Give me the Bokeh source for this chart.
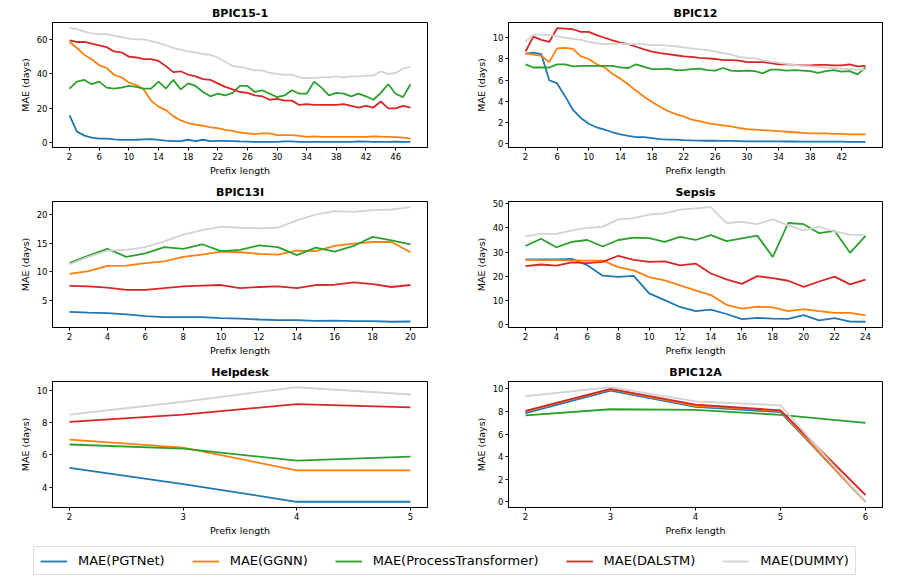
import numpy as np
from bokeh.plotting import figure
from bokeh.layouts import column, row
from bokeh.models import FixedTicker, Range1d, Legend, LegendItem
from bokeh.embed import file_html
from bokeh.resources import INLINE

MODELS = ["MAE(PGTNet)", "MAE(GGNN)", "MAE(ProcessTransformer)", "MAE(DALSTM)", "MAE(DUMMY)"]
COLORS = ["#1f77b4", "#ff7f0e", "#2ca02c", "#d62728", "#d3d3d3"]

# ---------------- BPIC15-1 ----------------
bpic151_x = list(range(2, 49))
bpic151_pgtnet = [16, 6.5, 4.2, 3, 2.5, 2.5, 2, 1.7, 1.7, 1.8, 2, 2.2, 1.7, 1.3, 1.0, 1.0, 1.8, 1.0, 1.8, 1.0,
                  1.2, 1.2, 1.0, 0.8, 0.7, 0.6, 0.6, 0.6, 0.6, 0.8, 0.8, 0.6, 0.6, 0.6, 0.6, 0.6, 0.6, 0.6, 0.6, 0.8,
                  0.7, 0.6, 0.6, 0.6, 0.7, 0.6, 0.6]
bpic151_ggnn = [58.5, 55, 51, 48.5, 45, 43.5, 39.5, 38, 35, 33.5, 31, 24.5, 21, 19, 15.5, 13, 11.5, 10.5, 10, 9,
                8.5, 7.5, 7, 6, 5.5, 5, 5.5, 5.5, 4.5, 4.5, 4.5, 4, 3.5, 3.8, 3.5, 3.5, 3.5, 3.5, 3.5, 3.5,
                3.5, 3.8, 3.6, 3.5, 3.3, 3.0, 2.5]
bpic151_pt = [31.5, 35.5, 36.5, 34, 35.5, 32, 31.5, 32, 33, 32.5, 31.5, 31.5, 35.5, 31.5, 36.5, 31, 34.5, 33, 29.5, 27,
              28.5, 27.5, 29, 33, 33, 29.5, 30.5, 28.5, 26.5, 27.5, 30.5, 28.5, 28.5, 35.5, 32, 27.5, 29, 28.5, 27, 28.5,
              27, 25, 29, 34, 28.5, 26.5, 34]
bpic151_dalstm = [59.5, 58.5, 58.5, 57.5, 56.5, 55.5, 53, 52.5, 50, 49.5, 48.5, 48.5, 47.5, 44.5, 41, 41.5, 39.5, 38.5, 37, 36.5,
                  34.5, 32.5, 31, 29.5, 29, 27.5, 27, 25, 25.5, 24.5, 24.5, 22, 22.5, 22, 22, 22, 22, 22.5, 21.5, 20.5,
                  21.5, 20.5, 24, 20, 20, 21.5, 20.5]
bpic151_dummy = [66.5, 66, 64.5, 63.5, 63, 63, 62, 61.5, 60.5, 60, 60, 59, 58, 56.5, 55, 54, 53, 52.5, 51.5, 51,
                 49.5, 47, 44.5, 44, 43, 42, 42, 40.5, 40, 39.5, 39.5, 38, 37.5, 37.5, 38, 38, 38.5, 38, 38.5, 38.5,
                 39, 39, 41.5, 40, 40.5, 43, 44]
bpic151_xticks = [2, 6, 10, 14, 18, 22, 26, 30, 34, 38, 42, 46]
bpic151_yticks = [0, 20, 40, 60]

# ---------------- BPIC12 ----------------
bpic12_x = list(range(2, 46))
bpic12_pgtnet = [8.5, 8.6, 8.45, 6.0, 5.7, 4.5, 3.2, 2.45, 1.9, 1.55, 1.35, 1.1, 0.9, 0.75, 0.65, 0.65, 0.55, 0.45, 0.4, 0.4,
                 0.35, 0.33, 0.32, 0.3, 0.3, 0.28, 0.28, 0.27, 0.25, 0.25, 0.25, 0.24, 0.24, 0.23, 0.23, 0.22, 0.22, 0.22, 0.22, 0.21,
                 0.21, 0.2, 0.2, 0.2]
bpic12_ggnn = [8.5, 8.4, 8.3, 7.7, 9.0, 9.05, 8.95, 8.25, 8.0, 7.5, 7.2, 6.6, 6.15, 5.6, 5.0, 4.45, 3.95, 3.5, 3.1, 2.8,
               2.6, 2.3, 2.15, 1.95, 1.85, 1.75, 1.65, 1.5, 1.4, 1.35, 1.3, 1.25, 1.2, 1.15, 1.1, 1.05, 1.0, 1.0, 1.0, 0.95,
               0.95, 0.9, 0.9, 0.9]
bpic12_pt = [7.5, 7.2, 7.2, 7.2, 7.5, 7.5, 7.3, 7.35, 7.35, 7.35, 7.35, 7.35, 7.2, 7.15, 7.5, 7.25, 7.05, 7.05, 7.1, 6.95,
             6.95, 7.05, 7.1, 6.95, 6.9, 7.15, 6.9, 6.85, 6.9, 6.85, 6.65, 7.0, 7.0, 6.9, 6.95, 6.9, 6.85, 6.7, 6.85, 6.95,
             6.8, 6.85, 6.55, 7.2]
bpic12_dalstm = [8.7, 10.1, 9.8, 9.6, 10.9, 10.85, 10.8, 10.55, 10.55, 10.25, 10.0, 9.75, 9.55, 9.4, 9.15, 8.9, 8.7, 8.55, 8.45, 8.35,
                 8.25, 8.2, 8.1, 8.05, 8.0, 7.9, 7.9, 7.85, 7.7, 7.7, 7.7, 7.6, 7.5, 7.5, 7.45, 7.4, 7.4, 7.45, 7.45, 7.4,
                 7.4, 7.5, 7.3, 7.35]
bpic12_dummy = [9.6, 10.3, 10.3, 10.25, 10.15, 10.0, 9.9, 9.8, 9.6, 9.5, 9.4, 9.45, 9.45, 9.4, 9.4, 9.4, 9.3, 9.3, 9.25, 9.2,
                9.1, 9.0, 8.9, 8.85, 8.7, 8.55, 8.4, 8.2, 8.1, 8.05, 7.9, 7.75, 7.65, 7.55, 7.45, 7.35, 7.3, 7.25, 7.2, 7.15,
                7.1, 7.05, 7.0, 7.0]
bpic12_xticks = [2, 6, 10, 14, 18, 22, 26, 30, 34, 38, 42]
bpic12_yticks = [0, 2, 4, 6, 8, 10]

# ---------------- BPIC13I ----------------
bpic13i_x = list(range(2, 21))
bpic13i_pgtnet = [2.95, 2.8, 2.7, 2.5, 2.2, 2.0, 2.0, 2.0, 1.85, 1.75, 1.6, 1.5, 1.5, 1.35, 1.4, 1.3, 1.3, 1.2, 1.25]
bpic13i_ggnn = [9.6, 10.1, 11.0, 11.05, 11.5, 11.8, 12.6, 13.0, 13.5, 13.4, 13.1, 13.0, 13.7, 13.6, 14.5, 14.9, 15.2, 15.2, 13.4]
bpic13i_pt = [11.5, 12.8, 14.0, 12.6, 13.2, 14.3, 14.0, 14.8, 13.6, 13.8, 14.6, 14.3, 12.9, 14.2, 13.5, 14.5, 16.1, 15.5, 14.8]
bpic13i_dalstm = [7.5, 7.4, 7.2, 6.8, 6.8, 7.1, 7.4, 7.55, 7.65, 7.1, 7.3, 7.4, 7.1, 7.65, 7.7, 8.1, 7.8, 7.3, 7.65]
bpic13i_dummy = [11.3, 12.6, 13.7, 13.8, 14.3, 15.3, 16.5, 17.3, 17.9, 17.7, 17.6, 17.7, 19.0, 20.0, 20.6, 20.5, 20.8, 20.9, 21.3]
bpic13i_xticks = [2, 4, 6, 8, 10, 12, 14, 16, 18, 20]
bpic13i_yticks = [5, 10, 15, 20]

# ---------------- Sepsis ----------------
sepsis_x = list(range(2, 25))
sepsis_pgtnet = [27, 27, 27, 27.2, 24.6, 20.3, 19.8, 20.2, 13, 10.2, 7.4, 5.7, 6.3, 4.5, 2.4, 2.9, 2.6, 2.5, 4.0, 1.9, 2.8, 1.4, 1.3]
sepsis_ggnn = [26.8, 26.7, 26.7, 26.6, 26.5, 26.5, 23.8, 22.5, 19.7, 18.4, 16.3, 14.2, 12.3, 8.3, 6.7, 7.5, 7.2, 5.7, 6.5, 5.7, 5.0, 5.0, 3.9]
sepsis_pt = [32.5, 35.5, 32, 34.2, 35, 32.3, 35, 36, 35.8, 34.2, 36.3, 35, 37, 34.5, 35.7, 36.8, 28, 42, 41.5, 37.8, 38.8, 29.7, 36.7]
sepsis_dalstm = [24.2, 24.9, 24.4, 25.8, 25.5, 26, 28.5, 26.8, 26, 26.2, 24.5, 25.3, 21.2, 18.8, 16.9, 20.1, 19.3, 18.2, 15.7, 17.9, 19.9, 16.7, 18.7]
sepsis_dummy = [36.5, 37.5, 37.5, 39, 40, 40.5, 43.5, 44, 45.5, 46, 47.5, 48, 48.5, 42, 42.5, 41.5, 43.5, 41, 39, 40.5, 38.5, 37.2, 37]
sepsis_xticks = [2, 4, 6, 8, 10, 12, 14, 16, 18, 20, 22, 24]
sepsis_yticks = [0, 10, 20, 30, 40, 50]

# ---------------- Helpdesk ----------------
helpdesk_x = [2, 3, 4, 5]
helpdesk_pgtnet = [5.2, 4.2, 3.1, 3.1]
helpdesk_ggnn = [6.95, 6.45, 5.05, 5.05]
helpdesk_pt = [6.65, 6.4, 5.65, 5.9]
helpdesk_dalstm = [8.05, 8.5, 9.15, 8.95]
helpdesk_dummy = [8.5, 9.3, 10.2, 9.75]
helpdesk_xticks = [2, 3, 4, 5]
helpdesk_yticks = [4, 6, 8, 10]

# ---------------- BPIC12A ----------------
bpic12a_x = [2, 3, 4, 5, 6]
bpic12a_pgtnet = [7.85, 9.85, 8.4, 7.95, 0.02]
bpic12a_ggnn = [8.0, 9.95, 8.5, 8.05, 0.0]
bpic12a_pt = [7.65, 8.2, 8.15, 7.7, 7.0]
bpic12a_dalstm = [8.05, 10.0, 8.6, 8.1, 0.6]
bpic12a_dummy = [9.35, 10.15, 8.9, 8.55, 0.0]
bpic12a_xticks = [2, 3, 4, 5, 6]
bpic12a_yticks = [0, 2, 4, 6, 8, 10]

FONT = "DejaVu Sans"


def padded(lo, hi):
    span = hi - lo
    return lo - 0.05 * span, hi + 0.05 * span


def make_panel(title, xs, series, xticks, yticks, left_col, top_row):
    all_y = np.concatenate([np.asarray(s, dtype=float) for s in series])
    x0, x1 = padded(min(xs), max(xs))
    y0, y1 = padded(all_y.min(), all_y.max())
    if left_col:
        fw, ml, br = 381, 16, 27
    else:
        fw, ml, br = 380, 18, 9
    bl = 30
    bt = 22 if top_row else 21
    fh = 128 if top_row else 129
    bb = 28
    w = bl + fw + br
    h = bt + fh + bb
    p = figure(width=w, height=h, output_backend="svg", toolbar_location=None,
               x_range=Range1d(x0, x1), y_range=Range1d(y0, y1),
               min_border_left=bl, min_border_right=br, min_border_top=bt, min_border_bottom=bb,
               margin=(0, 0, 180 - h, ml))
    p.title.text = title
    p.title.align = "center"
    p.title.text_font = FONT
    p.title.text_font_size = "11px"
    p.title.text_font_style = "bold"
    p.title.text_color = "black"
    p.title.standoff = 5
    p.grid.visible = False
    p.outline_line_color = "black"
    p.outline_line_alpha = 1.0
    p.outline_line_width = 1
    p.background_fill_color = "white"
    p.border_fill_color = "white"
    for ax in (p.xaxis, p.yaxis):
        ax.axis_line_color = "black"
        ax.major_tick_line_color = "black"
        ax.major_tick_out = 3
        ax.major_tick_in = 0
        ax.minor_tick_line_color = None
        ax.major_label_text_font = FONT
        ax.major_label_text_font_size = "8.5px"
        ax.major_label_text_color = "black"
        ax.axis_label_text_font = FONT
        ax.axis_label_text_font_size = "9.5px"
        ax.axis_label_text_font_style = "normal"
        ax.axis_label_text_color = "black"
    p.xaxis.major_label_standoff = 2
    p.xaxis.axis_label_standoff = 2
    p.yaxis.major_label_standoff = 2
    p.yaxis.axis_label_standoff = 3
    p.xaxis.ticker = FixedTicker(ticks=xticks)
    p.yaxis.ticker = FixedTicker(ticks=yticks)
    p.xaxis.axis_label = "Prefix length"
    p.yaxis.axis_label = "MAE (days)"
    for ys, c in zip(series, COLORS):
        p.line(x=xs, y=ys, line_color=c, line_width=1.8)
    return p


p1 = make_panel("BPIC15-1", bpic151_x,
                [bpic151_pgtnet, bpic151_ggnn, bpic151_pt, bpic151_dalstm, bpic151_dummy],
                bpic151_xticks, bpic151_yticks, True, True)
p2 = make_panel("BPIC12", bpic12_x,
                [bpic12_pgtnet, bpic12_ggnn, bpic12_pt, bpic12_dalstm, bpic12_dummy],
                bpic12_xticks, bpic12_yticks, False, True)
p3 = make_panel("BPIC13I", bpic13i_x,
                [bpic13i_pgtnet, bpic13i_ggnn, bpic13i_pt, bpic13i_dalstm, bpic13i_dummy],
                bpic13i_xticks, bpic13i_yticks, True, False)
p4 = make_panel("Sepsis", sepsis_x,
                [sepsis_pgtnet, sepsis_ggnn, sepsis_pt, sepsis_dalstm, sepsis_dummy],
                sepsis_xticks, sepsis_yticks, False, False)
p5 = make_panel("Helpdesk", helpdesk_x,
                [helpdesk_pgtnet, helpdesk_ggnn, helpdesk_pt, helpdesk_dalstm, helpdesk_dummy],
                helpdesk_xticks, helpdesk_yticks, True, False)
p6 = make_panel("BPIC12A", bpic12a_x,
                [bpic12a_pgtnet, bpic12a_ggnn, bpic12a_pt, bpic12a_dalstm, bpic12a_dummy],
                bpic12a_xticks, bpic12a_yticks, False, False)

# legend strip
lf = figure(width=883, height=35, output_backend="svg", toolbar_location=None,
            x_range=Range1d(0, 1), y_range=Range1d(0, 1),
            x_axis_location=None, y_axis_location=None,
            min_border=0, margin=(0, 0, 0, 8))
lf.outline_line_color = None
lf.grid.visible = False
items = []
for m, c in zip(MODELS, COLORS):
    r = lf.line(x=[-5, -4], y=[-5, -4], line_color=c, line_width=1.8)
    items.append(LegendItem(label=m, renderers=[r]))
legend = Legend(items=items, orientation="horizontal", location=(25, 0),
                padding=6, spacing=27, margin=0,
                glyph_width=27, glyph_height=12, label_height=12, label_standoff=11,
                label_text_font=FONT, label_text_font_size="13px", label_text_color="black",
                border_line_color="#bbbbbb", border_line_width=1,
                background_fill_color="white", background_fill_alpha=1.0)
lf.add_layout(legend)

layout = column(row(p1, p2), row(p3, p4), row(p5, p6), lf)

with open("out.html", "w") as f:
    f.write(file_html(layout, INLINE))
